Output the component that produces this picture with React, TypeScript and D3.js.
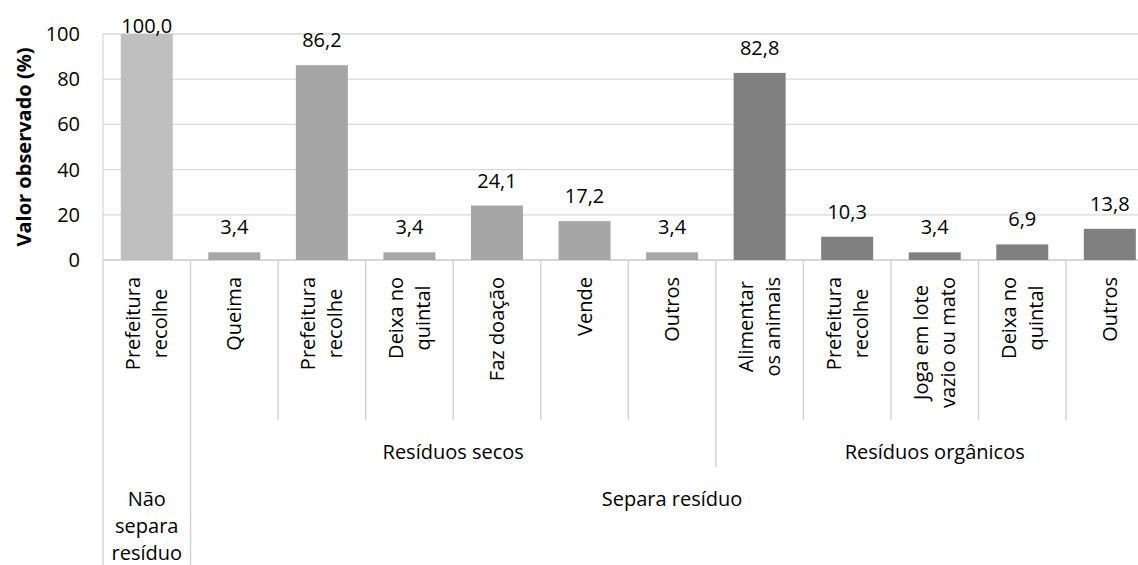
import React, { useEffect, useRef } from "react";
import * as d3 from "d3";

const categories = [
  "Prefeitura\nrecolhe",
  "Queima",
  "Prefeitura\nrecolhe",
  "Deixa no\nquintal",
  "Faz doação",
  "Vende",
  "Outros",
  "Alimentar\nos animais",
  "Prefeitura\nrecolhe",
  "Joga em lote\nvazio ou mato",
  "Deixa no\nquintal",
  "Outros",
];
const values = [100.0, 3.4, 86.2, 3.4, 24.1, 17.2, 3.4, 82.8, 10.3, 3.4, 6.9, 13.8];
const level2Groups = [
  { label: "", start: 0, end: 0 },
  { label: "Resíduos secos", start: 1, end: 6 },
  { label: "Resíduos orgânicos", start: 7, end: 11 },
];
const level3Groups = [
  { label: "Não\nsepara\nresíduo", start: 0, end: 0 },
  { label: "Separa resíduo", start: 1, end: 11 },
];
const yTicks = [0, 20, 40, 60, 80, 100];
const groupColors = ["#bfbfbf", "#a6a6a6", "#808080"];
const yTitle = "Valor observado (%)";

function groupOf(i: number) {
  return level2Groups.findIndex((g) => i >= g.start && i <= g.end);
}

export default function App() {
  const ref = useRef<SVGSVGElement>(null);

  useEffect(() => {
    const svg = d3.select(ref.current);
    svg.selectAll("*").remove();
    const font = "'Open Sans', sans-serif";
    const fs = 20;

    const left = 103;
    const step = 87.55;
    const right = left + step * categories.length;
    const top = 34;
    const bottom = 260;
    const p = 0.406;

    const x = d3
      .scaleBand<number>()
      .domain(d3.range(categories.length))
      .range([left, right])
      .paddingInner(p)
      .paddingOuter(p / 2);
    const band = d3.scaleBand<number>().domain(d3.range(categories.length)).range([left, right]);
    const y = d3.scaleLinear().domain([0, 100]).range([bottom, top]);

    // gridlines
    svg
      .append("g")
      .selectAll("line")
      .data(yTicks)
      .join("line")
      .attr("x1", left)
      .attr("x2", right)
      .attr("y1", (d) => y(d))
      .attr("y2", (d) => y(d))
      .attr("stroke", (d) => (d === 0 ? "#c8c8c8" : "#d9d9d9"))
      .attr("stroke-width", 1.3);
    // plot border left
    svg
      .append("line")
      .attr("x1", left)
      .attr("x2", left)
      .attr("y1", top)
      .attr("y2", bottom)
      .attr("stroke", "#d9d9d9")
      .attr("stroke-width", 1.3);

    // bars
    svg
      .append("g")
      .selectAll("rect")
      .data(values)
      .join("rect")
      .attr("x", (_, i) => x(i)!)
      .attr("width", x.bandwidth())
      .attr("y", (d) => y(d))
      .attr("height", (d) => y(0) - y(d))
      .attr("fill", (_, i) => groupColors[groupOf(i)]);

    // value labels
    svg
      .append("g")
      .selectAll("text")
      .data(values)
      .join("text")
      .attr("x", (_, i) => x(i)! + x.bandwidth() / 2)
      .attr("y", (d) => Math.max(y(d) - 18, 33))
      .attr("text-anchor", "middle")
      .attr("font-family", font)
      .attr("font-size", fs)
      .attr("fill", "#000")
      .text((d) => d.toFixed(1).replace(".", ","));

    // y tick labels
    svg
      .append("g")
      .selectAll("text")
      .data(yTicks)
      .join("text")
      .attr("x", 80)
      .attr("y", (d) => y(d))
      .attr("dy", "0.35em")
      .attr("text-anchor", "end")
      .attr("font-family", font)
      .attr("font-size", fs)
      .attr("fill", "#000")
      .text((d) => String(d));

    // y title
    svg
      .append("text")
      .attr("transform", `translate(24,${(top + bottom) / 2}) rotate(-90)`)
      .attr("dy", "0.35em")
      .attr("text-anchor", "middle")
      .attr("font-family", font)
      .attr("font-size", 20)
      .attr("font-weight", "bold")
      .attr("fill", "#000")
      .text(yTitle);

    // divider lines
    const divColor = "#cfcfcf";
    const boundaries = d3.range(categories.length + 1);
    boundaries.forEach((b) => {
      const bx = b < categories.length ? band(b)! : right;
      let yEnd = 420;
      if (level3Groups.some((g) => g.start === b) || b === categories.length) yEnd = 565;
      else if (level2Groups.some((g) => g.start === b)) yEnd = 467;
      svg
        .append("line")
        .attr("x1", bx)
        .attr("x2", bx)
        .attr("y1", bottom)
        .attr("y2", yEnd)
        .attr("stroke", divColor)
        .attr("stroke-width", 1.3);
    });

    // level 1 rotated labels
    const lineH = 27;
    const topText = 277;
    const g1 = svg.append("g");
    categories.forEach((c, i) => {
      const lines = c.split("\n");
      const cx = band(i)! + band.bandwidth() / 2;
      const texts = lines.map((ln) =>
        g1
          .append("text")
          .attr("font-family", font)
          .attr("font-size", fs)
          .attr("fill", "#000")
          .attr("text-anchor", "middle")
          .attr("dy", "0.35em")
          .text(ln)
      );
      const maxLen = d3.max(texts, (t) => (t.node() as SVGTextElement).getComputedTextLength()) || 0;
      const yc = topText + maxLen / 2;
      texts.forEach((t, k) => {
        const lx = cx + (k - (lines.length - 1) / 2) * lineH;
        t.attr("transform", `translate(${lx},${yc}) rotate(-90)`);
      });
    });

    // level 2 labels
    level2Groups.forEach((g) => {
      if (!g.label) return;
      const cx = (band(g.start)! + band(g.end)! + band.bandwidth()) / 2;
      svg
        .append("text")
        .attr("x", cx)
        .attr("y", 459)
        .attr("text-anchor", "middle")
        .attr("font-family", font)
        .attr("font-size", fs)
        .attr("fill", "#000")
        .text(g.label);
    });

    // level 3 labels
    level3Groups.forEach((g) => {
      const cx = (band(g.start)! + band(g.end)! + band.bandwidth()) / 2;
      g.label.split("\n").forEach((ln, k) => {
        svg
          .append("text")
          .attr("x", cx)
          .attr("y", 506 + k * lineH)
          .attr("text-anchor", "middle")
          .attr("font-family", font)
          .attr("font-size", fs)
          .attr("fill", "#000")
          .text(ln);
      });
    });
  }, []);

  return (
    <svg
      ref={ref}
      width={1138}
      height={565}
      style={{ position: "absolute", left: 0, top: 0, background: "#fff" }}
    />
  );
}
